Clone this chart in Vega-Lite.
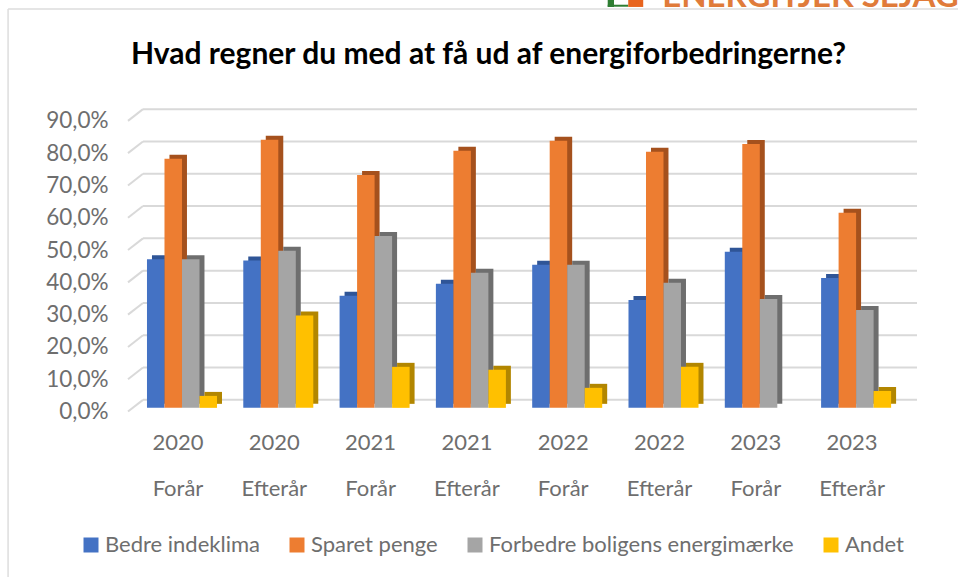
{
  "$schema": "https://vega.github.io/schema/vega-lite/v6.json",
  "width": 789,
  "height": 323,
  "autosize": "none",
  "padding": {"left": 128, "top": 101, "right": 41, "bottom": 153},
  "background": "white",
  "title": {"text": "Hvad regner du med at få ud af energiforbedringerne?", "font": "Lato", "fontSize": 30, "fontWeight": "bold", "color": "#000000", "anchor": "start", "frame": "group", "offset": -113, "dx": 3, "baseline": "alphabetic"},
  "config": {"view": {"stroke": null}},
  "datasets": {
    "bars": [
      {"periode": "2020 Forår", "serie": "Bedre indeklima", "andel": 46.0},
      {"periode": "2020 Forår", "serie": "Sparet penge", "andel": 77.1},
      {"periode": "2020 Forår", "serie": "Forbedre boligens energimærke", "andel": 46.0},
      {"periode": "2020 Forår", "serie": "Andet", "andel": 3.7},
      {"periode": "2020 Efterår", "serie": "Bedre indeklima", "andel": 45.6},
      {"periode": "2020 Efterår", "serie": "Sparet penge", "andel": 83.0},
      {"periode": "2020 Efterår", "serie": "Forbedre boligens energimærke", "andel": 48.6},
      {"periode": "2020 Efterår", "serie": "Andet", "andel": 28.6},
      {"periode": "2021 Forår", "serie": "Bedre indeklima", "andel": 34.7},
      {"periode": "2021 Forår", "serie": "Sparet penge", "andel": 72.1},
      {"periode": "2021 Forår", "serie": "Forbedre boligens energimærke", "andel": 53.2},
      {"periode": "2021 Forår", "serie": "Andet", "andel": 12.7},
      {"periode": "2021 Efterår", "serie": "Bedre indeklima", "andel": 38.4},
      {"periode": "2021 Efterår", "serie": "Sparet penge", "andel": 79.6},
      {"periode": "2021 Efterår", "serie": "Forbedre boligens energimærke", "andel": 41.8},
      {"periode": "2021 Efterår", "serie": "Andet", "andel": 11.8},
      {"periode": "2022 Forår", "serie": "Bedre indeklima", "andel": 44.3},
      {"periode": "2022 Forår", "serie": "Sparet penge", "andel": 82.7},
      {"periode": "2022 Forår", "serie": "Forbedre boligens energimærke", "andel": 44.3},
      {"periode": "2022 Forår", "serie": "Andet", "andel": 6.2},
      {"periode": "2022 Efterår", "serie": "Bedre indeklima", "andel": 33.4},
      {"periode": "2022 Efterår", "serie": "Sparet penge", "andel": 79.3},
      {"periode": "2022 Efterår", "serie": "Forbedre boligens energimærke", "andel": 38.7},
      {"periode": "2022 Efterår", "serie": "Andet", "andel": 12.7},
      {"periode": "2023 Forår", "serie": "Bedre indeklima", "andel": 48.3},
      {"periode": "2023 Forår", "serie": "Sparet penge", "andel": 81.7},
      {"periode": "2023 Forår", "serie": "Forbedre boligens energimærke", "andel": 33.7},
      {"periode": "2023 Efterår", "serie": "Bedre indeklima", "andel": 40.2},
      {"periode": "2023 Efterår", "serie": "Sparet penge", "andel": 60.4},
      {"periode": "2023 Efterår", "serie": "Forbedre boligens energimærke", "andel": 30.3},
      {"periode": "2023 Efterår", "serie": "Andet", "andel": 5.2}
    ],
    "ticks": [{"v": 0}, {"v": 10}, {"v": 20}, {"v": 30}, {"v": 40}, {"v": 50}, {"v": 60}, {"v": 70}, {"v": 80}, {"v": 90}]
  },
  "resolve": {"scale": {"x": "independent", "color": "independent"}, "axis": {"x": "independent"}},
  "layer": [
    {
      "data": {"name": "ticks"},
      "mark": {"type": "rule", "color": "#d9d9d9", "strokeWidth": 2, "yOffset": -8},
      "encoding": {
        "x": {"datum": 0.019, "type": "quantitative", "scale": {"domain": [0, 1]}, "axis": null},
        "x2": {"datum": 1},
        "y": {"field": "v", "type": "quantitative", "scale": {"domain": [-5, 95], "nice": false},
          "axis": {"values": [0, 10, 20, 30, 40, 50, 60, 70, 80, 90], "tickCount": 10, "title": null, "domain": false, "ticks": false, "grid": false, "labelOverlap": false, "labelSeparation": 0, "labelOffset": 3.7, "labelPadding": 20, "labelFont": "Lato", "labelFontSize": 22.5, "labelColor": "#6e6e6e", "labelExpr": "replace(format(datum.value, '.1f'), '.', ',') + '%'"}}
      }
    },
    {
      "data": {"values": [{"a": 1}]},
      "mark": {"type": "rule", "color": "#dddddd", "strokeWidth": 1.5},
      "encoding": {
        "x": {"datum": -0.152, "type": "quantitative", "scale": {"domain": [0, 1]}, "axis": null},
        "y": {"datum": 123.5, "type": "quantitative"},
        "y2": {"datum": -60}
      }
    },
    {
      "data": {"values": [{"a": 1}]},
      "mark": {"type": "rule", "color": "#dddddd", "strokeWidth": 1.5},
      "encoding": {
        "x": {"datum": -0.152, "type": "quantitative", "scale": {"domain": [0, 1]}, "axis": null},
        "x2": {"datum": 1.06},
        "y": {"datum": 123.5, "type": "quantitative"}
      }
    },
    {
      "data": {"values": [{"a": 1}]},
      "mark": {"type": "rule", "color": "#2e7d32", "strokeWidth": 7},
      "encoding": {
        "x": {"datum": 0.608, "type": "quantitative", "scale": {"domain": [0, 1]}, "axis": null},
        "x2": {"datum": 0.616},
        "y": {"datum": 125.2, "type": "quantitative"}
      }
    },
    {
      "data": {"values": [{"a": 1}]},
      "mark": {"type": "rule", "color": "#2e7d32", "strokeWidth": 2},
      "encoding": {
        "x": {"datum": 0.608, "type": "quantitative", "scale": {"domain": [0, 1]}, "axis": null},
        "x2": {"datum": 0.634},
        "y": {"datum": 124.5, "type": "quantitative"}
      }
    },
    {
      "data": {"values": [{"a": 1}]},
      "mark": {"type": "rule", "color": "#e8641e", "strokeWidth": 7},
      "encoding": {
        "x": {"datum": 0.634, "type": "quantitative", "scale": {"domain": [0, 1]}, "axis": null},
        "x2": {"datum": 0.653},
        "y": {"datum": 125.2, "type": "quantitative"}
      }
    },
    {
      "data": {"values": [{"text": "ENERGITJEK SEJAG"}]},
      "mark": {"type": "text", "font": "Lato", "fontWeight": "bold", "fontSize": 33, "color": "#e07b3a", "align": "left", "baseline": "alphabetic"},
      "encoding": {
        "x": {"datum": 0.677, "type": "quantitative", "scale": {"domain": [0, 1]}, "axis": null},
        "y": {"datum": 124.1, "type": "quantitative"},
        "text": {"field": "text"}
      }
    },
    {
      "data": {"name": "ticks"},
      "mark": {"type": "rule", "color": "#d9d9d9", "strokeWidth": 2, "yOffset": 3.7, "y2Offset": -8},
      "encoding": {
        "x": {"datum": 0, "type": "quantitative", "scale": {"domain": [0, 1]}, "axis": null},
        "x2": {"datum": 0.019},
        "y": {"field": "v", "type": "quantitative"},
        "y2": {"field": "v"}
      }
    },
    {
      "data": {"name": "bars"},
      "mark": {"type": "bar", "yOffset": -4, "y2Offset": -4},
      "encoding": {
        "x": {"field": "periode", "type": "nominal", "sort": null, "axis": null, "scale": {"paddingInner": 0.273, "paddingOuter": 0.233, "align": 0.534}},
        "xOffset": {"field": "serie", "type": "nominal", "sort": ["Bedre indeklima", "Sparet penge", "Forbedre boligens energimærke", "Andet"], "scale": {"paddingInner": 0, "paddingOuter": 0}},
        "y": {"field": "andel", "type": "quantitative"},
        "y2": {"datum": 0},
        "color": {"field": "serie", "type": "nominal", "legend": null, "scale": {"domain": ["Bedre indeklima", "Sparet penge", "Forbedre boligens energimærke", "Andet"], "range": ["#2f5597", "#a5511d", "#6e6e6e", "#b28600"]}}
      }
    },
    {
      "data": {"name": "bars"},
      "mark": {"type": "bar"},
      "encoding": {
        "x": {"field": "periode", "type": "nominal", "sort": null, "scale": {"paddingInner": 0.273, "paddingOuter": 0.233, "align": 0.423},
          "axis": {"title": null, "domain": false, "ticks": false, "labelAngle": 0, "labelFont": "Lato", "labelFontSize": 22, "labelColor": "#6e6e6e", "labelPadding": 8, "labelLineHeight": 46, "labelOffset": -4, "labelExpr": "split(datum.value, ' ')"}},
        "xOffset": {"field": "serie", "type": "nominal", "sort": ["Bedre indeklima", "Sparet penge", "Forbedre boligens energimærke", "Andet"], "scale": {"paddingInner": 0, "paddingOuter": 0}},
        "y": {"field": "andel", "type": "quantitative"},
        "y2": {"datum": 0},
        "color": {"field": "serie", "type": "nominal", "scale": {"domain": ["Bedre indeklima", "Sparet penge", "Forbedre boligens energimærke", "Andet"], "range": ["#4472c4", "#ed7d31", "#a5a5a5", "#ffc000"]},
          "legend": {"title": null, "orient": "none", "direction": "horizontal", "columns": 4, "legendX": -48, "legendY": 433, "symbolType": "square", "symbolSize": 225, "symbolStrokeWidth": 0, "labelFont": "Lato", "labelFontSize": 22, "labelColor": "#6e6e6e", "labelLimit": 400, "columnPadding": 26, "labelOffset": 3}}
      }
    }
  ]
}
